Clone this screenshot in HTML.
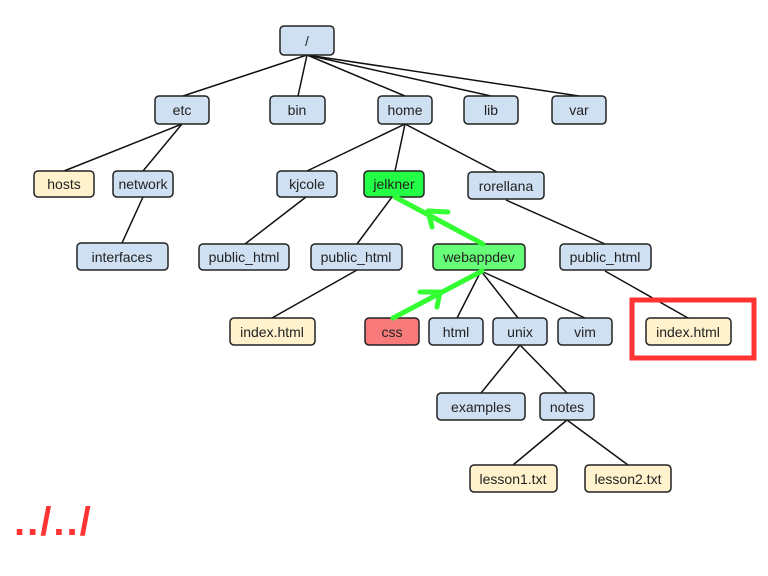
<!DOCTYPE html>
<html><head><meta charset="utf-8"><style>
body{margin:0;background:#fff;width:768px;height:576px;overflow:hidden}
svg{display:block}
text{font-family:"Liberation Sans",sans-serif;font-size:14px;fill:#222;text-anchor:middle}
</style></head><body>
<svg width="768" height="576" viewBox="0 0 768 576">
<g stroke="#111" stroke-width="1.5" fill="none">
<line x1="307" y1="55" x2="183" y2="96"/>
<line x1="307" y1="55" x2="298" y2="96"/>
<line x1="307" y1="55" x2="405" y2="96"/>
<line x1="307" y1="55" x2="491" y2="96"/>
<line x1="307" y1="55" x2="579" y2="96"/>
<line x1="182" y1="124" x2="64" y2="171"/>
<line x1="182" y1="124" x2="143" y2="171"/>
<line x1="143" y1="197" x2="122" y2="243"/>
<line x1="405" y1="124" x2="307" y2="171"/>
<line x1="405" y1="124" x2="395" y2="171"/>
<line x1="405" y1="124" x2="497" y2="172"/>
<line x1="306" y1="197" x2="245" y2="244"/>
<line x1="392" y1="197" x2="357" y2="244"/>
<line x1="357" y1="270" x2="272" y2="318"/>
<line x1="506" y1="200" x2="605" y2="244"/>
<line x1="605" y1="271" x2="688" y2="318"/>
<line x1="481" y1="271" x2="457" y2="318"/>
<line x1="481" y1="271" x2="518" y2="318"/>
<line x1="481" y1="271" x2="585" y2="318"/>
<line x1="520" y1="345" x2="481" y2="393"/>
<line x1="520" y1="345" x2="567" y2="393"/>
<line x1="567" y1="420" x2="513" y2="465"/>
<line x1="567" y1="420" x2="628" y2="465"/>
</g>
<g stroke="#222" stroke-width="1.5">
<rect x="280" y="26" width="54" height="29" rx="4" fill="#cfe0f3"/>
<rect x="155" y="96" width="54" height="28" rx="4" fill="#cfe0f3"/>
<rect x="270" y="96" width="55" height="28" rx="4" fill="#cfe0f3"/>
<rect x="378" y="96" width="54" height="28" rx="4" fill="#cfe0f3"/>
<rect x="464" y="96" width="54" height="28" rx="4" fill="#cfe0f3"/>
<rect x="552" y="96" width="54" height="28" rx="4" fill="#cfe0f3"/>
<rect x="34" y="171" width="60" height="26" rx="4" fill="#fff2cc"/>
<rect x="113" y="171" width="60" height="26" rx="4" fill="#cfe0f3"/>
<rect x="277" y="171" width="60" height="26" rx="4" fill="#cfe0f3"/>
<rect x="364" y="171" width="60" height="26" rx="4" fill="#22ff44"/>
<rect x="468" y="172" width="76" height="27" rx="4" fill="#cfe0f3"/>
<rect x="77" y="243" width="91" height="27" rx="4" fill="#cfe0f3"/>
<rect x="199" y="244" width="90" height="26" rx="4" fill="#cfe0f3"/>
<rect x="311" y="244" width="91" height="26" rx="4" fill="#cfe0f3"/>
<rect x="433" y="244" width="92" height="26" rx="4" fill="#66ff77"/>
<rect x="560" y="244" width="91" height="26" rx="4" fill="#cfe0f3"/>
<rect x="230" y="318" width="85" height="27" rx="4" fill="#fff2cc"/>
<rect x="365" y="318" width="54" height="27" rx="4" fill="#f87a7a"/>
<rect x="429" y="318" width="54" height="27" rx="4" fill="#cfe0f3"/>
<rect x="493" y="318" width="54" height="27" rx="4" fill="#cfe0f3"/>
<rect x="558" y="318" width="54" height="27" rx="4" fill="#cfe0f3"/>
<rect x="646" y="318" width="85" height="27" rx="4" fill="#fff2cc"/>
<rect x="437" y="393" width="88" height="27" rx="4" fill="#cfe0f3"/>
<rect x="540" y="393" width="54" height="27" rx="4" fill="#cfe0f3"/>
<rect x="470" y="465" width="87" height="27" rx="4" fill="#fff2cc"/>
<rect x="585" y="465" width="86" height="27" rx="4" fill="#fff2cc"/>
</g>
<rect x="632" y="300" width="122" height="58" fill="none" stroke="#ff3333" stroke-width="5"/>
<g stroke="#33ff33" stroke-width="5" fill="none" stroke-linecap="round" stroke-linejoin="round">
<line x1="483" y1="244" x2="395" y2="197"/>
<polyline points="448,212 428,211 432,227"/>
<line x1="393" y1="318" x2="482" y2="271"/>
<polyline points="420,292 440,292 437,307"/>
</g>
<text x="307" y="46">/</text>
<text x="182" y="115">etc</text>
<text x="297" y="115">bin</text>
<text x="405" y="115">home</text>
<text x="491" y="115">lib</text>
<text x="579" y="115">var</text>
<text x="64" y="189">hosts</text>
<text x="143" y="189">network</text>
<text x="307" y="189">kjcole</text>
<text x="394" y="189">jelkner</text>
<text x="506" y="191">rorellana</text>
<text x="122" y="262">interfaces</text>
<text x="244" y="262">public_html</text>
<text x="356" y="262">public_html</text>
<text x="479" y="262">webappdev</text>
<text x="605" y="262">public_html</text>
<text x="272" y="337">index.html</text>
<text x="392" y="337">css</text>
<text x="456" y="337">html</text>
<text x="520" y="337">unix</text>
<text x="585" y="337">vim</text>
<text x="688" y="337">index.html</text>
<text x="481" y="412">examples</text>
<text x="567" y="412">notes</text>
<text x="513" y="484">lesson1.txt</text>
<text x="628" y="484">lesson2.txt</text>
<text x="14" y="535" style="text-anchor:start;font-size:40px;font-weight:bold;fill:#ff3333;letter-spacing:2px">../../</text>
</svg>
</body></html>
